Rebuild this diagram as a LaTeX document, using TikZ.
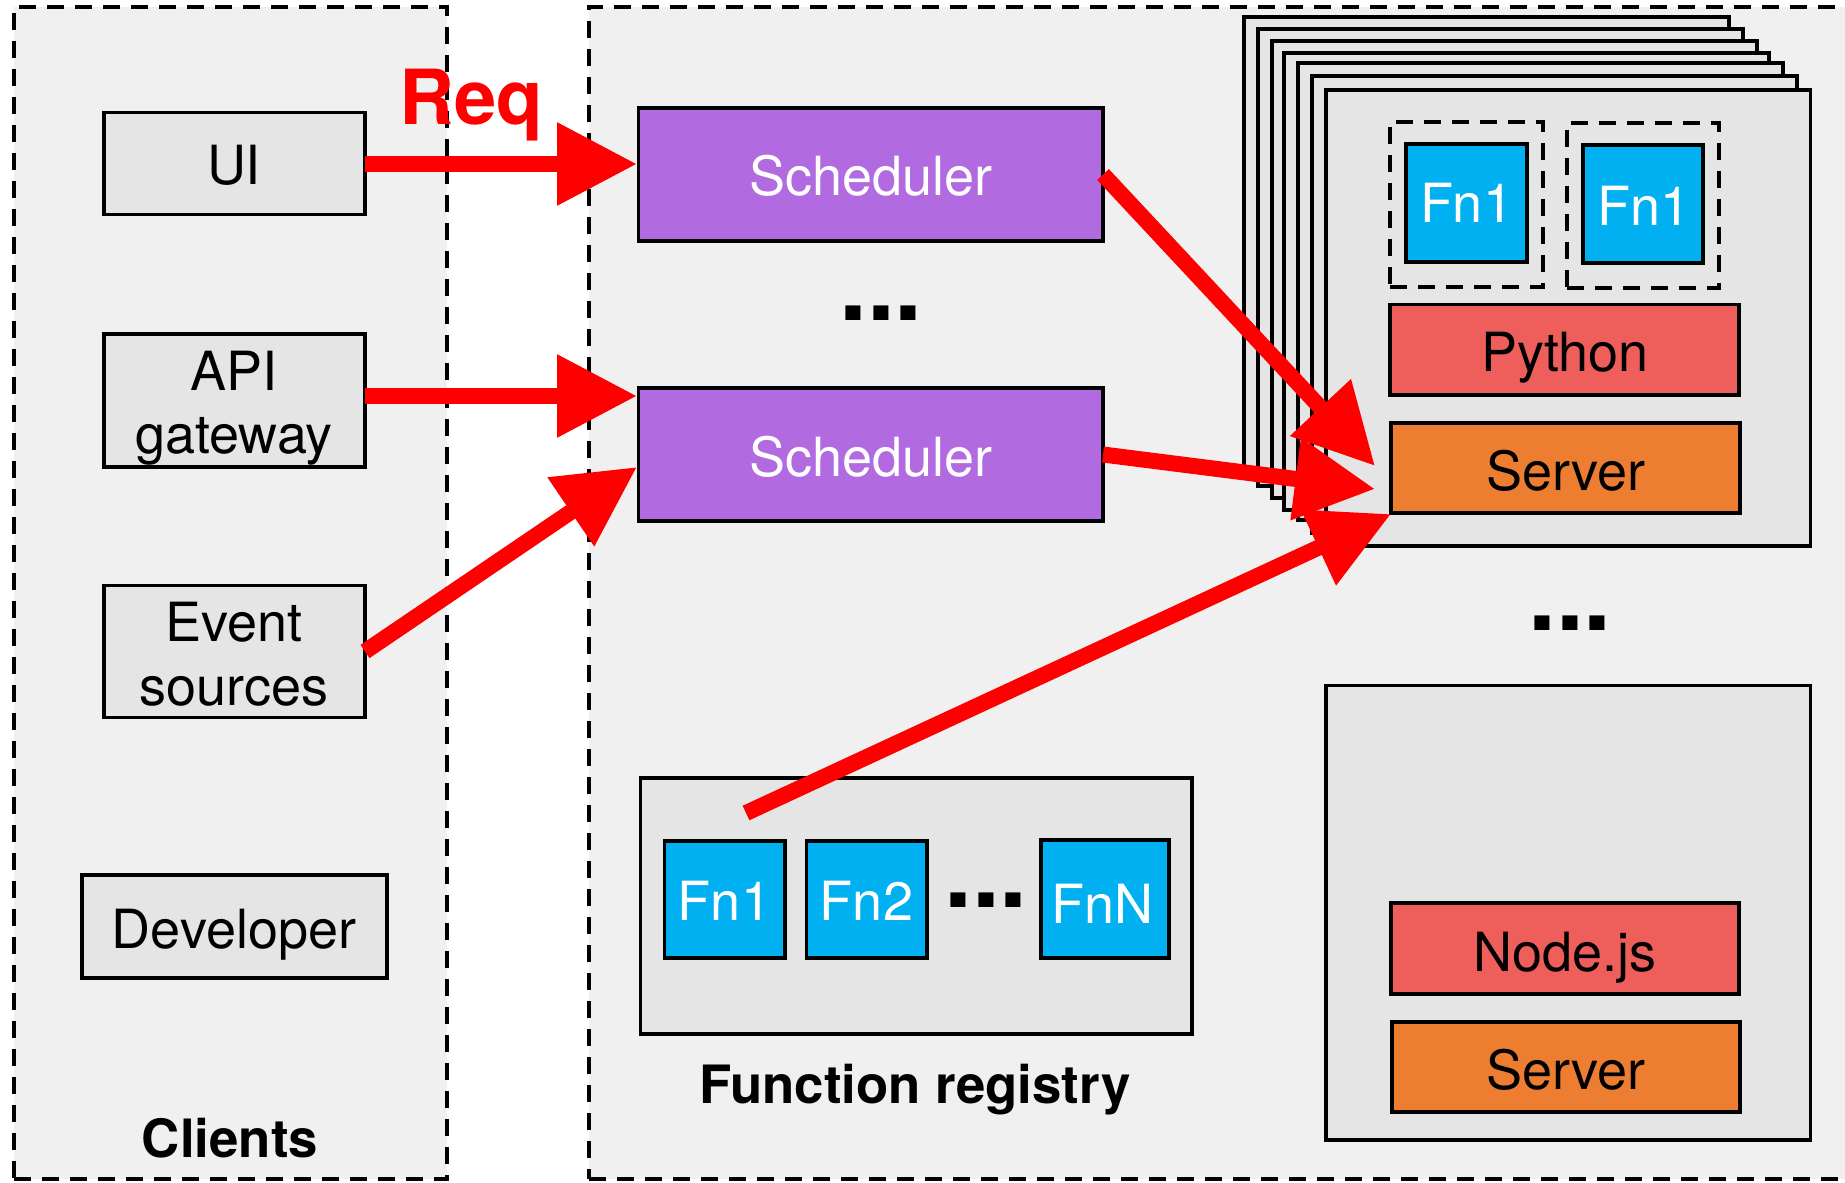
\documentclass[tikz,border=0pt]{standalone}
\usepackage{fontspec}
\setmainfont{TeX Gyre Heros}
\usetikzlibrary{arrows.meta}
\definecolor{panel}{HTML}{F0F0F0}
\definecolor{boxgray}{HTML}{E5E5E5}
\definecolor{sched}{HTML}{B16AE0}
\definecolor{fnblue}{HTML}{00B0F0}
\definecolor{langred}{HTML}{EE5E5B}
\definecolor{srvorange}{HTML}{ED7D31}
\tikzset{
  x=0.5pt,y=-0.5pt,
  rectbase/.style={rectangle,inner sep=0pt,outer sep=0pt,draw=black,line width=1.8pt},
  panelbox/.style={rectbase,fill=panel,line width=2pt,dash pattern=on 8.5pt off 5.5pt},
  graybox/.style={rectbase,fill=boxgray},
  schedbox/.style={rectbase,fill=sched},
  fnbox/.style={rectbase,fill=fnblue},
  redbox/.style={rectbase,fill=langred},
  orangebox/.style={rectbase,fill=srvorange},
  slotbox/.style={rectbase,fill=none,line width=2pt,dash pattern=on 8.5pt off 5.5pt},
  txt/.style={inner sep=0pt,outer sep=0pt,anchor=base,font=\fontsize{27}{32}\selectfont},
  wtxt/.style={txt,text=white},
  btxt/.style={txt,font=\fontsize{26.4}{32}\selectfont\bfseries},
  reqtxt/.style={txt,text=red,font=\fontsize{38}{44}\selectfont\bfseries},
  dots/.style={inner sep=0pt,outer sep=0pt,anchor=base,font=\fontsize{50}{50}\selectfont\bfseries},
  flow/.style={draw=red,line width=8pt,-{Triangle[length=40pt,width=39.5pt]},line cap=butt},
}
\newcommand{\bx}[6]{%
  \pgfmathsetmacro{\bxw}{(#5-#3)*0.5}%
  \pgfmathsetmacro{\bxh}{(#6-#4)*0.5}%
  \node[#2,minimum width=\bxw pt,minimum height=\bxh pt] (#1) at ({(#3+#5)/2},{(#4+#6)/2}) {};%
}
\begin{document}
\begin{tikzpicture}
\useasboundingbox (0,0) rectangle (1845,1182);
\clip (0,0) rectangle (1845,1182);
\fill[white] (0,0) rectangle (1845,1182);
% panels
\bx{clients}{panelbox}{14}{7}{447}{1179}
\bx{cluster}{panelbox}{589}{7}{1900}{1179}
% clients
\bx{ui}{graybox}{104}{112.5}{365}{214.5}
\bx{api}{graybox}{104}{334}{365}{467}
\bx{event}{graybox}{104}{585.5}{365}{717.5}
\bx{dev}{graybox}{82}{875}{387}{978}
\node[txt] (tui) at (234,185) {UI};
\node[txt] (tapi) at (234,390) {API};
\node[txt] (tgate) at (234,453) {gateway};
\node[txt] (tevent) at (234,641) {Event};
\node[txt] (tsrc) at (234,705) {sources};
\node[txt] (tdev) at (234,948) {Developer};
\node[btxt] (tclients) at (230,1157) {Clients};
% schedulers
\bx{sa}{schedbox}{638.5}{108}{1103}{241}
\bx{sb}{schedbox}{638.5}{388}{1103}{521}
\node[wtxt] (tsa) at (871,196) {Scheduler};
\node[wtxt] (tsb) at (871,476) {Scheduler};
\node[dots] (dotsa) at (881,320) {...};
% worker stack
\bx{w0}{graybox}{1244}{17}{1729}{474}
\bx{w1}{graybox}{1258}{29}{1743}{486}
\bx{w2}{graybox}{1272}{41}{1757}{498}
\bx{w3}{graybox}{1284}{53}{1769}{510}
\bx{w4}{graybox}{1298}{63}{1783}{520}
\bx{w5}{graybox}{1312}{76}{1797}{533}
\bx{w6}{graybox}{1326}{90}{1810.5}{546}
\bx{slota}{slotbox}{1390}{122}{1543}{287}
\bx{slotb}{slotbox}{1567}{123}{1719}{288}
\bx{fa}{fnbox}{1406}{144}{1527}{262}
\bx{fb}{fnbox}{1583}{145}{1703}{263}
\node[wtxt] (tfa) at (1466.5,223) {Fn1};
\node[wtxt] (tfb) at (1643.5,226) {Fn1};
\bx{py}{redbox}{1390}{304.5}{1739}{395}
\bx{srva}{orangebox}{1391}{423}{1740}{513}
\node[txt] (tpy) at (1565,371) {Python};
\node[txt] (tsrva) at (1566,490) {Server};
\node[dots] (dotsb) at (1570,630) {...};
% second worker
\bx{wn}{graybox}{1326}{685.5}{1810.5}{1140}
\bx{node}{redbox}{1391}{903}{1739}{994}
\bx{srvb}{orangebox}{1392}{1022}{1740}{1112}
\node[txt] (tnode) at (1565,971) {Node.js};
\node[txt] (tsrvb) at (1566,1089) {Server};
% registry
\bx{reg}{graybox}{640.5}{778}{1192}{1034}
\bx{f1}{fnbox}{664.5}{841}{785}{958}
\bx{f2}{fnbox}{806.5}{841}{927}{958}
\bx{fN}{fnbox}{1041}{840}{1169}{958}
\node[wtxt] (tf1) at (724.5,920) {Fn1};
\node[wtxt] (tf2) at (866.5,920) {Fn2};
\node[wtxt] (tfN) at (1102.5,923) {FnN};
\node[dots] (dotsc) at (986,907) {...};
\node[btxt] (treg) at (915,1103) {Function registry};
% flows
\coordinate (tip1) at (637,164);
\coordinate (tip2) at (637,396);
\coordinate (tip3) at (637,467);
\coordinate (tip4) at (1375,466);
\coordinate (tip5) at (1375,489);
\coordinate (tip6) at (1391,514);
\coordinate (regout) at (746,813);
\draw[flow] (ui.east |- tip1) -- (tip1);
\draw[flow] (api.east |- tip2) -- (tip2);
\draw[flow] (event.east) -- (tip3);
\draw[flow] (sa.east) -- (tip4);
\draw[flow] (sb.east) -- (tip5);
\draw[flow] (regout) -- (tip6);
\node[reqtxt] (treq) at (471,125) {Req};
\end{tikzpicture}
\end{document}
